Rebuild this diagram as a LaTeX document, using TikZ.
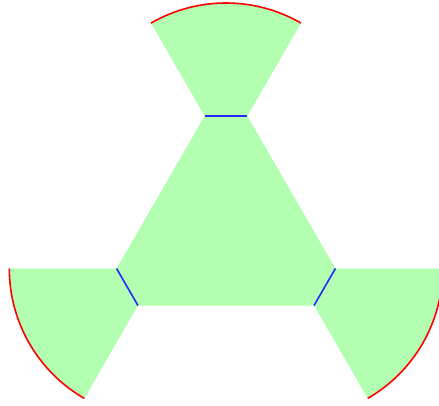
\documentclass[tikz,border=0pt]{standalone}
\usetikzlibrary{calc}
\begin{document}
\begin{tikzpicture}[x=1pt,y=1pt,line join=round]
  \clip (-226,-175) rectangle (213,230);
  % triangle and the three wedges
  \fill[green!30] (90:151) -- (210:151) -- (330:151) -- cycle;
  \foreach \t in {90,210,330}
    \fill[green!30] (\t:77) -- ++(\t-30:150) arc (\t-30:\t+30:150) -- cycle;
  % cuts and rims
  \foreach \t in {90,210,330} {
    \coordinate (c\t) at (\t:114);
    \draw[blue!85,line width=1.6pt] ($(c\t)+(\t-90:21.4)$) -- ($(c\t)+(\t+90:21.4)$);
    \draw[red,line width=1.6pt] (\t:77) ++(\t-30:150) arc (\t-30:\t+30:150);
  }
\end{tikzpicture}
\end{document}
